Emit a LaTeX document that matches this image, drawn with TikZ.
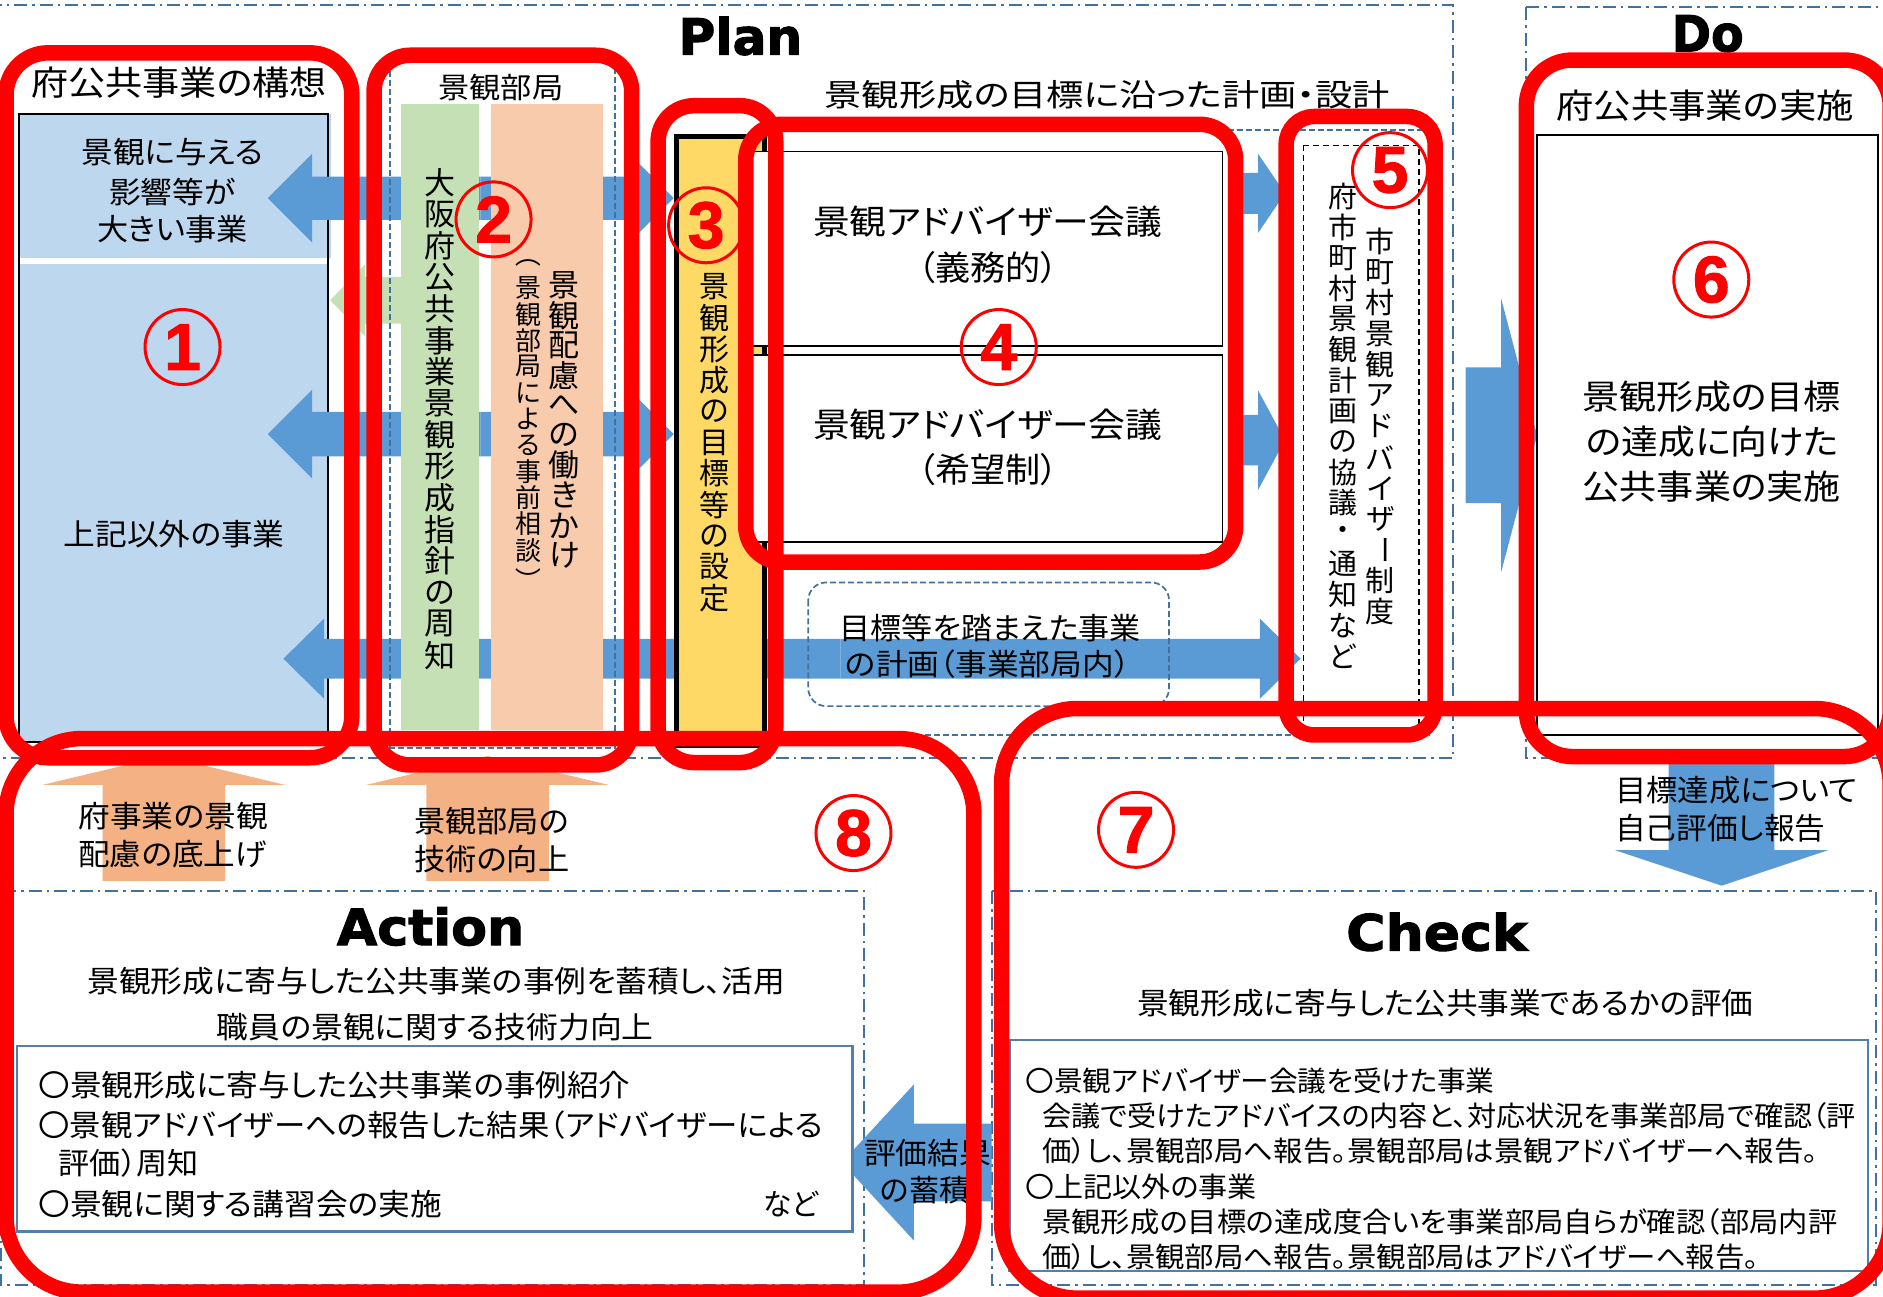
\documentclass[tikz,border=0pt]{standalone}
\usepackage{fontspec}
\usepackage{graphicx}
\newfontfamily\jp[RawFeature=+palt]{Noto Sans CJK JP}
\newfontfamily\heavy{DejaVu Sans}[BoldFont={DejaVu Sans Bold},BoldFeatures={FakeBold=2}]
\newfontfamily\digit{Liberation Sans}[BoldFont={Liberation Sans Bold},BoldFeatures={FakeBold=1.5}]
\definecolor{blueA}{HTML}{5B9BD5}
\definecolor{blueL}{HTML}{BDD7EE}
\definecolor{greenL}{HTML}{C5E0B4}
\definecolor{peachL}{HTML}{F8CBAD}
\definecolor{orangeA}{HTML}{F4B183}
\definecolor{yellowB}{HTML}{FFD966}
\definecolor{frameC}{HTML}{41719C}
\newdimen\dunit \dunit=1.2009pt
\newdimen\jpitch
\tikzset{
  lbl/.style={inner sep=0pt,outer sep=0pt,font=\jp,text=black},
  frameDD/.style={draw=frameC,line width=2pt,dash pattern=on 13pt off 5pt on 2.5pt off 5pt},
  frameD/.style={draw=frameC,line width=1.7pt,dash pattern=on 6pt off 3pt},
  blackD/.style={draw=black,line width=1.4pt,dash pattern=on 6pt off 4pt},
  plainbox/.style={draw=black,line width=1.6pt},
  bluebox/.style={draw=frameC!90!white,line width=2.4pt,fill=white},
  redbox/.style={draw=red,line width=15.5pt},
  numc/.style={circle,draw=red,line width=3pt,minimum size=75pt,inner sep=0pt,text=red,font=\digit\bfseries\fontsize{66}{66}\selectfont},
}
% horizontal text fitted between x1 and x2
\newcommand\jtext[6]{\pgfmathsetmacro\jw{#3-#2}\pgfmathsetmacro\jc{(#3+#2)/2}%
  \node[lbl] (#1) at (\jc,#4) {\resizebox{\jw\dunit}{\height}{\fontsize{#5}{#5}\selectfont\vphantom{漢}#6}};}
\newcommand\jhead[6]{\pgfmathsetmacro\jw{#3-#2}\pgfmathsetmacro\jc{(#3+#2)/2}%
  \node[lbl] (#1) at (\jc,#4) {\resizebox{\jw\dunit}{\height}{\heavy\bfseries\fontsize{#5}{#5}\selectfont #6}};}
% vertical text
\newcommand\jbar{\rotatebox[origin=c]{-90}{ー}}
\newcommand\jlp{\rotatebox[origin=c]{-90}{（}}
\newcommand\jrp{\rotatebox[origin=c]{-90}{）}}
\def\vstEnd{\vstEnd}
\def\vstLoop#1{\ifx#1\vstEnd\let\vstNext\relax\else
  \vbox to \jpitch{\vss\hbox to 1.2em{\hss#1\hss}\vss}\let\vstNext\vstLoop\fi\vstNext}
\newcommand\jvert[6]{%
  \node[lbl,anchor=north] (#1) at (#2,#3) {\fontsize{#5}{#5}\selectfont\jpitch=#4\dunit
    \vbox{\offinterlineskip\vstLoop#6\vstEnd}};}
% block arrows
\newcommand\hArrow[7]{\fill[#7] (#1,#4) -- (#2,#4-#5) -- (#2,#4-#6) -- (#3,#4-#6) -- (#3,#4+#6) -- (#2,#4+#6) -- (#2,#4+#5) -- cycle;}
\newcommand\vArrow[7]{\fill[#7] (#4,#1) -- (#4-#5,#2) -- (#4-#6,#2) -- (#4-#6,#3) -- (#4+#6,#3) -- (#4+#6,#2) -- (#4+#5,#2) -- cycle;}
\begin{document}
\begin{tikzpicture}[x=1.2009pt,y=-1.2009pt]
\useasboundingbox (0,0) rectangle (1568,1080);
\fill[white] (0,0) rectangle (1568,1080);
% phase frames
\draw[frameDD] (-1,4) rectangle (1210,631);
\draw[frameDD] (1271,6) rectangle (1575,631);
\draw[frameDD] (0.5,742) rectangle (719.5,1070);
\draw[frameDD] (826,742) rectangle (1562,1070);
% box 1
\fill[blueL] (16,95) rectangle (273,618);
\fill[blueL] (16,95) rectangle (276,215);
\fill[white] (16,215) rectangle (273,220);
\draw[plainbox] (16,95) rectangle (273,618);
% blue arrows row
\hArrow{223}{260}{400}{165}{37}{18}{blueA}
\hArrow{561}{524}{400}{165}{37}{18}{blueA}
\hArrow{223}{260}{400}{361.5}{37}{18.5}{blueA}
\hArrow{561}{524}{400}{361.5}{37}{18.5}{blueA}
\hArrow{236}{270}{700}{548.5}{33.5}{16.5}{blueA}
\hArrow{1083}{1049}{700}{548.5}{33.5}{16.5}{blueA}
\hArrow{275}{304}{340}{250}{30}{19.5}{greenL}
% columns
\fill[greenL] (334,87) rectangle (399,608);
\fill[peachL] (409,87) rectangle (502,608);
\draw[frameD] (325,52) rectangle (512,623);
% yellow box
\fill[yellowB] (563,114) rectangle (637,621);
\draw[draw=black,line width=5pt] (563,114) rectangle (637,621);
% frame round 4/5
\draw[frameD] (640,108) -- (1190,108) -- (1190,612) -- (640,612);
% advisor boxes
\draw[plainbox,fill=white] (620,126) rectangle (1018,288);
\draw[plainbox,fill=white] (620,295.5) rectangle (1018,451.5);
\hArrow{1070}{1047.6}{1022.6}{161}{33}{17}{blueA}
\hArrow{1070}{1047.6}{1022.6}{366.5}{41.5}{21}{blueA}
% rounded dashed
\draw[frameD,rounded corners=18pt] (673,485) rectangle (973.5,588);
% box 5
\draw[blackD] (1085.5,121) rectangle (1181.5,610);
% big arrow and box 6
\hArrow{1280}{1250}{1220.5}{362.5}{114}{56.5}{blueA}
\draw[plainbox,fill=white] (1280,112.6) rectangle (1564,612);
% lower arrows
\vArrow{629.5}{653.6}{733.6}{136.5}{101}{51}{orangeA}
\vArrow{629.5}{653.6}{733.6}{406}{101}{51}{orangeA}
\vArrow{737.5}{708}{625}{1433.5}{88.5}{44}{blueA}
\hArrow{701}{761}{825.8}{968}{65}{32.3}{blueA}
% inner boxes
\draw[bluebox] (14.3,870.8) rectangle (710,1025.6);
\draw[bluebox] (840.6,866) rectangle (1555.5,1058.5);
% headings
\jhead{hPlan}{565}{668}{30}{50}{Plan}
\jhead{hDo}{1392}{1452}{28}{50}{Do}
\jhead{hAction}{280.5}{436.5}{771.5}{50}{Action}
\jhead{hCheck}{1121}{1272}{776}{50}{Check}
% top texts
\jtext{t1}{26}{272}{69}{34}{府公共事業の構想}
\jtext{t2}{365}{469}{73}{29}{景観部局}
\jtext{t3}{68}{219}{126.5}{30}{景観に与える}
\jtext{t4}{91}{196}{159.5}{30}{影響等が}
\jtext{t5}{81}{206}{190.6}{30}{大きい事業}
\jtext{t6}{53}{237}{445}{30}{上記以外の事業}
\jvert{t7}{366}{139}{26.25}{31}{大阪府公共事業景観形成指針の周知}
\jvert{t8}{470}{225}{25}{31}{景観配慮への働きかけ}
\jvert{t9}{440}{207}{21.85}{26}{\jlp 景観部局による事前相談\jrp}
\jvert{t10}{595}{226}{25.9}{30}{景観形成の目標等の設定}
\jtext{t11}{686.6}{1157.6}{79}{31}{景観形成の目標に沿った計画・設計}
\jtext{t12}{677}{968}{184.4}{34}{景観アドバイザー会議}
\jtext{t13}{764}{881}{222.5}{34}{（義務的）}
\jtext{t14}{677}{968}{353.4}{34}{景観アドバイザー会議}
\jtext{t15}{764}{881}{391.4}{34}{（希望制）}
\jtext{t16}{699}{950}{523}{30}{目標等を踏まえた事業}
\jtext{t17}{704}{941}{553}{30}{の計画（事業部局内）}
\jvert{t18}{1149.5}{188}{25.7}{29}{市町村景観アドバイザ\jbar 制度}
\jvert{t19}{1118}{151}{25.5}{29}{府市町村景観計画の協議・通知など}
\jtext{t20}{1296}{1544}{88}{34}{府公共事業の実施}
\jtext{t21}{1318}{1533}{330}{34}{景観形成の目標}
\jtext{t22}{1321}{1531}{368}{34}{の達成に向けた}
\jtext{t23}{1318}{1533}{405}{34}{公共事業の実施}
% middle labels
\jtext{t24}{65.3}{223}{680}{30}{府事業の景観}
\jtext{t25}{65.3}{222}{711}{30}{配慮の底上げ}
\jtext{t26}{345}{474}{683.7}{30}{景観部局の}
\jtext{t27}{345}{474}{715}{30}{技術の向上}
\jtext{t28}{1345}{1547}{658.4}{30}{目標達成について}
\jtext{t29}{1345}{1520}{690}{30}{自己評価し報告}
\jtext{t30}{719.6}{825.5}{960.6}{30}{評価結果}
\jtext{t31}{733}{807}{991}{30}{の蓄積}
% action
\jtext{t32}{72.8}{654}{817}{30}{景観形成に寄与した公共事業の事例を蓄積し、活用}
\jtext{t33}{180.6}{544.4}{855}{30}{職員の景観に関する技術力向上}
\jtext{t34}{32}{525}{904}{30}{〇景観形成に寄与した公共事業の事例紹介}
\jtext{t35}{32}{685}{936.7}{30}{〇景観アドバイザーへの報告した結果（アドバイザーによる}
\jtext{t36}{49}{165.7}{968.9}{30}{評価）周知}
\jtext{t37}{32}{368}{1002.6}{30}{〇景観に関する講習会の実施}
\jtext{t38}{636}{681.5}{1002.6}{30}{など}
% check
\jtext{t39}{947}{1460}{835}{30}{景観形成に寄与した公共事業であるかの評価}
\jtext{t40}{854}{1244.5}{900}{28}{〇景観アドバイザー会議を受けた事業}
\jtext{t41}{868}{1545.5}{929}{28}{会議で受けたアドバイスの内容と、対応状況を事業部局で確認（評}
\jtext{t42}{868}{1514}{958}{28}{価）し、景観部局へ報告。景観部局は景観アドバイザーへ報告。}
\jtext{t43}{854}{1046.5}{988}{28}{〇上記以外の事業}
\jtext{t44}{868}{1530}{1017.6}{28}{景観形成の目標の達成度合いを事業部局自らが確認（部局内評}
\jtext{t45}{868}{1465}{1046.8}{28}{価）し、景観部局へ報告。景観部局はアドバイザーへ報告。}
% red outlines
\draw[redbox,rounded corners=42pt] (5,44) rectangle (293,631);
\draw[redbox,rounded corners=36pt] (311.5,46) rectangle (526,637);
\draw[redbox,rounded corners=36pt] (548,88) rectangle (646,635);
\draw[redbox,rounded corners=36pt] (621,103.5) rectangle (1029,468);
\draw[redbox,rounded corners=28pt] (1071,97) rectangle (1195,612);
\draw[redbox,rounded corners=46pt] (1271,50) rectangle (1574,630);
\draw[redbox,rounded corners=76pt] (834,590) rectangle (1574,1081);
\draw[redbox,rounded corners=76pt] (5,615) rectangle (811,1076);
% circled numbers
\node[numc] (c1) at (152,289) {1};
\node[numc] (c2) at (411,182.7) {2};
\node[numc] (c3) at (588,187.6) {3};
\node[numc] (c4) at (831.7,289) {4};
\node[numc] (c5) at (1157.5,141.7) {5};
\node[numc] (c6) at (1425,232.8) {6};
\node[numc] (c7) at (946,691) {7};
\node[numc] (c8) at (710.7,693.7) {8};
\end{tikzpicture}
\end{document}
